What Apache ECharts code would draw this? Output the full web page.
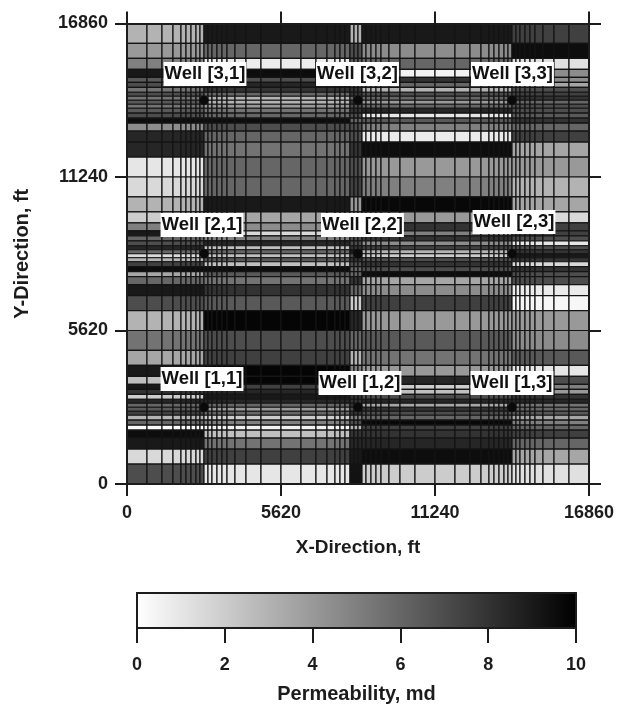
<!DOCTYPE html>
<html><head><meta charset="utf-8">
<style>html,body{margin:0;padding:0;background:#fff}#c{width:618px;height:705px}</style>
<script src="https://cdn.jsdelivr.net/npm/echarts@6/dist/echarts.min.js"></script>
</head><body><div id="c"></div>
<script>
// Grid cell edges (ft), one well block; repeated three times across and up the model
const blockEdges = [0,730,1277,1679,1970,2153,2336,2518,2664,2810,2956,3102,3284,3467,3650,3941,4343,4890];
const blockWidth = 5620;
const axisTicks = [0,5620,11240,16860];
const zoneLimits = [2810,8138,8576,14050]; // x limits of zones A|B|E|C|D

// Permeability (md) per row, top row first, for each x zone
const permA = [3,4,5,9,6.5,7,5.5,7,5.5,6.5,5.5,6.5,7,9.5,4.5,8.5,8.5,1,
               1.5,3,2,5,9,6,7,8.5,6,1.5,3,7.5,9.5,3.5,6,9,7,3,
               5.5,3.5,9,2.5,9,8,2,8.5,6,6.5,7.5,3,6,0.2,9.5,9,1.5,7];
const permB = [9,6,0.7,9.5,7,8.5,8,6,3,3,4,5.5,6,9.5,7,6,5.5,6,
               6,9,3.5,4.5,1.5,5,8.5,2.5,6,2.5,6.5,2.5,9.5,6.5,5.5,8,6.5,9.8,
               7,7.5,9.8,9.8,7.5,8.5,9,8.5,6,4,6,2,5,0.5,2.5,5.5,7.5,1];
const permE = [3,7,6.5,7,6,6,8,8,6,8,7,8,7,6,7,7,8,7,
               7.5,4,3,5,6,7,7,8,9,7,8,7,6,6,8,6,2,8.5,
               6,3,5,6,7,7,8,8,8,7,8,5,7,3,8,8.5,9,9.3];
const permC = [9,4.5,6,0.5,8,6,3,7,6,4,6,8.5,1,6.5,5,0.8,9.5,4,
               5,9.7,4,8,5,8,4.5,7.5,3,2,7,8,7,9.5,3.5,4.5,7.5,4,
               6.5,5.5,4,8.5,2,2.5,7,8.5,3.5,8,7,6,9.7,7.5,8,8.5,9.5,2];
const permD = [7.5,9.5,1.2,4.5,4.5,3.5,7,7.5,8,6,7,7,6.5,8,6,7.5,3.5,4,
               3,3.5,1.5,7.5,7.5,7,1,7,8,9,8,1.5,8,7,7,0.8,0.3,4,
               4.5,6.5,1,7,5,4,8,8.5,5.5,6,6.5,3.5,5,6,7.5,6,3.5,1.2];

// Wells and their label positions (ft)
const wellX = [2810,8430,14050];
const wellY = [2810,8430,14050];
const wellLabels = [
  ["Well [3,1]",2846,15010],["Well [3,2]",8411,15010],["Well [3,3]",14067,15010],
  ["Well [2,1]",2737,9482],["Well [2,2]",8593,9482],["Well [2,3]",14122,9592],
  ["Well [1,1]",2737,3844],["Well [1,2]",8502,3698],["Well [1,3]",14049,3698]
];
const barTicks = [0,10];

const edges = [];
for (let b=0;b<3;b++) blockEdges.forEach(e=>edges.push(e+b*blockWidth));
edges.push(3*blockWidth);
const zones = [permA,permB,permE,permC,permD];
const cells = [];
for (let r=0;r<edges.length-1;r++){
  const top = edges.length-1-r, bot = top-1;
  for (let c=0;c<edges.length-1;c++){
    const mid=(edges[c]+edges[c+1])/2;
    let z=zoneLimits.findIndex(l=>mid<l); if(z<0) z=4;
    cells.push([edges[c],edges[bot],edges[c+1],edges[top],zones[z][r]]);
  }
}
const wells=[]; wellY.forEach(y=>wellX.forEach(x=>wells.push([x,y])));
const grayOf=v=>{const g=Math.round(255*(1-v/10));return `rgb(${g},${g},${g})`;};
const FONT='"Liberation Sans"', INK='#1c1c1c';
const lab={fontFamily:FONT,fontWeight:'bold',fontSize:18,color:INK,formatter:v=>String(v)};
const nameStyle=s=>({fontFamily:FONT,fontWeight:'bold',fontSize:s,color:INK});
const line={show:true,onZero:false,lineStyle:{color:INK,width:2}};
const tick={show:true,length:12,inside:false,lineStyle:{color:INK,width:2}};
const chart=echarts.init(document.getElementById('c'),null,{renderer:'canvas'});
chart.setOption({
  animation:false,backgroundColor:'#fff',
  grid:[{left:127,right:29,top:23.5,bottom:221},{left:137,width:439,top:593,height:35}],
  xAxis:[
   {gridIndex:0,type:'value',min:0,max:16860,interval:5620,position:'bottom',z:5,axisLine:line,axisTick:tick,splitLine:{show:false},
    axisLabel:{...lab,margin:20,showMinLabel:true,showMaxLabel:true},name:'X-Direction, ft',nameLocation:'middle',nameGap:54,nameTextStyle:nameStyle(19)},
   {gridIndex:0,type:'value',min:0,max:16860,interval:5620,position:'top',z:5,axisLine:line,axisTick:tick,splitLine:{show:false},axisLabel:{show:false}},
   {gridIndex:1,type:'value',min:0,max:barTicks[1],interval:2,position:'bottom',z:5,axisLine:line,axisTick:{...tick,length:15},splitLine:{show:false},
    axisLabel:{...lab,margin:28},name:'Permeability, md',nameLocation:'middle',nameGap:56,nameTextStyle:nameStyle(20)},
   {gridIndex:1,type:'value',min:0,max:barTicks[1],position:'top',z:5,axisLine:line,axisTick:{show:false},splitLine:{show:false},axisLabel:{show:false}}
  ],
  yAxis:[
   {gridIndex:0,type:'value',min:0,max:16860,interval:5620,position:'left',z:5,axisLine:line,axisTick:tick,splitLine:{show:false},
    axisLabel:{...lab,margin:19},name:'Y-Direction, ft',nameLocation:'middle',nameRotate:90,nameGap:95,nameTextStyle:nameStyle(20)},
   {gridIndex:0,type:'value',min:0,max:16860,interval:5620,position:'right',z:5,axisLine:line,axisTick:tick,splitLine:{show:false},axisLabel:{show:false}},
   {gridIndex:1,type:'value',min:0,max:1,position:'left',z:5,axisLine:line,axisTick:{show:false},splitLine:{show:false},axisLabel:{show:false}},
   {gridIndex:1,type:'value',min:0,max:1,position:'right',z:5,axisLine:line,axisTick:{show:false},splitLine:{show:false},axisLabel:{show:false}}
  ],
  series:[
   {type:'custom',xAxisIndex:0,yAxisIndex:0,data:cells,progressive:0,silent:true,z:1,clip:true,
    renderItem:(p,api)=>{
      const a=api.coord([api.value(0),api.value(1)]),b=api.coord([api.value(2),api.value(3)]);
      return {type:'rect',shape:{x:a[0],y:b[1],width:b[0]-a[0],height:a[1]-b[1]},
        style:{fill:grayOf(api.value(4)),stroke:'#141414',lineWidth:1.2}};
    }},
   {type:'scatter',xAxisIndex:0,yAxisIndex:0,data:wells,symbol:'circle',symbolSize:9,itemStyle:{color:'#0a0a0a',opacity:1},z:3,silent:true},
   {type:'scatter',xAxisIndex:0,yAxisIndex:0,data:wellLabels.map(w=>({value:[w[1],w[2]],name:w[0]})),symbolSize:0,z:4,silent:true,itemStyle:{opacity:1},
    label:{show:true,position:'inside',opacity:1,formatter:'{b}',fontFamily:FONT,fontWeight:'bold',fontSize:18.5,color:'#111',backgroundColor:'#fff',padding:[3,1,2,1]}},
   {type:'custom',xAxisIndex:2,yAxisIndex:2,data:[[0,0,barTicks[1],1]],silent:true,z:1,
    renderItem:(p,api)=>{
      const a=api.coord([api.value(0),api.value(1)]),b=api.coord([api.value(2),api.value(3)]);
      return {type:'rect',shape:{x:a[0],y:b[1],width:b[0]-a[0],height:a[1]-b[1]},
        style:{fill:new echarts.graphic.LinearGradient(0,0,1,0,[{offset:0,color:'#fff'},{offset:1,color:'#000'}])}};
    }}
  ]
});
</script></body></html>
